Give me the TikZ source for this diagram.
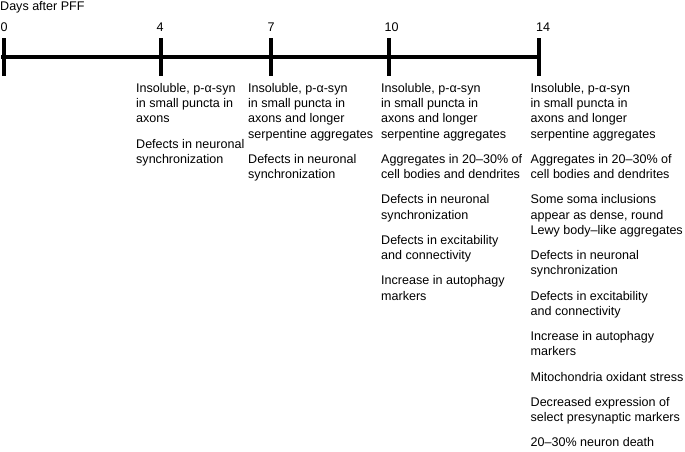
\documentclass[tikz,border=0pt]{standalone}
\usepackage{fontspec}
\setmainfont{Liberation Sans}
\usepackage{tikz}

\newcommand{\evfont}{\fontsize{12.55}{15.25}\selectfont}
\newcommand{\gap}{\\[10pt]}

\begin{document}
\begin{tikzpicture}[
		x=1pt, y=-1pt,
		every node/.style={inner sep=0pt, font=\evfont},
		tick/.style={rectangle, fill, minimum width=4pt, minimum height=37.5pt},
		day/.style={anchor=base},
		events/.style={anchor=north west, align=left}
	]
  \useasboundingbox (0,0) rectangle (685,452);
  \node (title) [anchor=base west] at (0,11) {Days after PFF};
  \node (t0) [tick] at (3.5,57) {};
  \node (t4) [tick] at (160.5,57) {};
  \node (t7) [tick] at (271,57) {};
  \node (t10) [tick] at (389,57) {};
  \node (t14) [tick] at (539,57) {};
  \draw [line width=4.5pt] (t0.west) -- (t14.east);
  \node (d0) [day] at (4,32) {0};
  \node (d4) [day] at (160,32) {4};
  \node (d7) [day] at (271,32) {7};
  \node (d10) [day] at (391.5,32) {10};
  \node (d14) [day] at (543,32) {14};
  \node (e4) [events] at (136,83) {Insoluble, p-α-syn\\in small puncta in\\axons\gap
    Defects in neuronal\\synchronization};
  \node (e7) [events] at (248,83) {Insoluble, p-α-syn\\in small puncta in\\axons and longer\\serpentine aggregates\gap
    Defects in neuronal\\synchronization};
  \node (e10) [events] at (381,83) {Insoluble, p-α-syn\\in small puncta in\\axons and longer\\serpentine aggregates\gap
    Aggregates in 20–30\% of\\cell bodies and dendrites\gap
    Defects in neuronal\\synchronization\gap
    Defects in excitability\\and connectivity\gap
    Increase in autophagy\\markers};
  \node (e14) [events] at (530.5,83) {Insoluble, p-α-syn\\in small puncta in\\axons and longer\\serpentine aggregates\gap
    Aggregates in 20–30\% of\\cell bodies and dendrites\gap
    Some soma inclusions\\appear as dense, round\\Lewy body–like aggregates\gap
    Defects in neuronal\\synchronization\gap
    Defects in excitability\\and connectivity\gap
    Increase in autophagy\\markers\gap
    Mitochondria oxidant stress\gap
    Decreased expression of\\select presynaptic markers\gap
    20–30\% neuron death};
\end{tikzpicture}
\end{document}
